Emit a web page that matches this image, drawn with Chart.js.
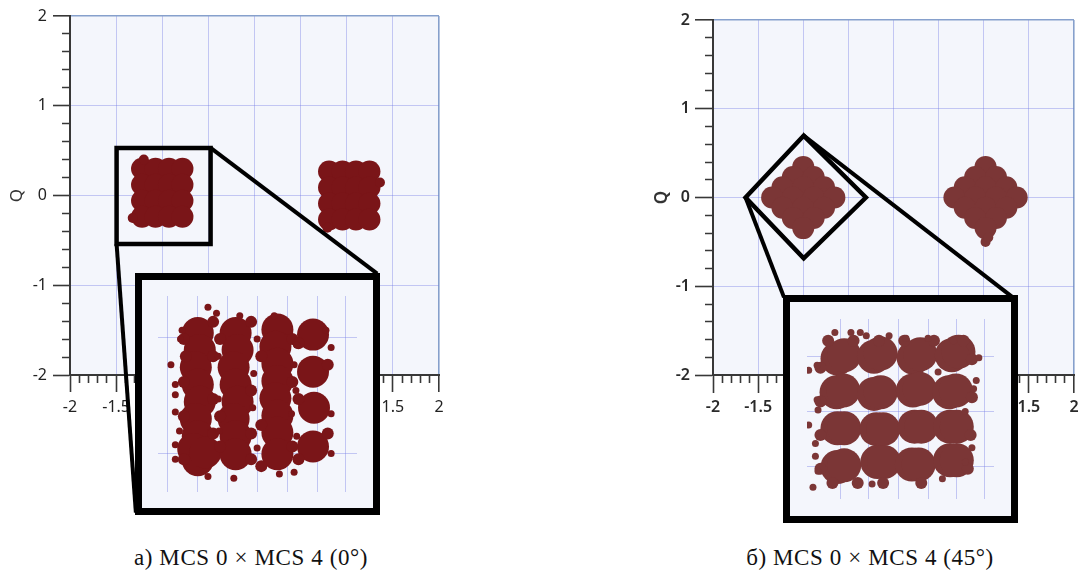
<!DOCTYPE html>
<html>
<head>
<meta charset="utf-8">
<script src="https://cdn.jsdelivr.net/npm/chart.js@4.4.1/dist/chart.umd.min.js"></script>
<style>
  html, body { margin: 0; padding: 0; background: #fff; }
  #page { position: relative; width: 1085px; height: 576px; overflow: hidden; }
  .panel { position: absolute; top: 0; height: 530px; }
  .main { position: absolute; left: 0; top: 0; width: 100%; height: 100%; }
  .inset { position: absolute; box-sizing: border-box; border: 7px solid #000; background: #f4f6fc; }
  .caption { position: absolute; top: 544px; width: 400px; text-align: center; line-height: 28px;
             font-family: 'Liberation Serif', 'DejaVu Serif', serif; font-size: 23px; letter-spacing: 0.6px;
             color: #111; white-space: nowrap; }
</style>
</head>
<body>
<div id="page">
  <div class="panel" style="left:0;width:450px">
    <div class="main"><canvas id="mainA"></canvas></div>
    <div class="inset" style="left:135px;top:273px;width:245px;height:242px"><canvas id="insetA"></canvas></div>
  </div>
  <div class="panel" style="left:640px;width:445px">
    <div class="main"><canvas id="mainB"></canvas></div>
    <div class="inset" style="left:143px;top:295px;width:235px;height:228px"><canvas id="insetB"></canvas></div>
  </div>
  <div class="caption" style="left:51px">а) MCS 0 × MCS 4 (0°)</div>
  <div class="caption" style="left:670px">б) MCS 0 × MCS 4 (45°)</div>
</div>
<script>
/* ============================================================
   Constellations MCS 0 x MCS 4 — two I/Q scatter plots + zoom insets
   ============================================================ */

// ---- Axis ticks ----
const xMajorTicks = [-2, -1.5, -1, -0.5, 0, 0.5, 1, 1.5, 2];
const yMajorTicks = [-2, -1, 0, 1, 2];

// ---- (а) 0° : main plot clusters (I, Q) ----
const clusterA = [
  [-1.219, 0.297], [-1.073, 0.297], [-0.927, 0.297], [-0.781, 0.297],
  [-1.219, 0.119], [-1.073, 0.119], [-0.927, 0.119], [-0.781, 0.119],
  [-1.219, -0.059], [-1.073, -0.059], [-0.927, -0.059], [-0.781, -0.059],
  [-1.219, -0.237], [-1.073, -0.237], [-0.927, -0.237], [-0.781, -0.237],
  [0.808, 0.267], [0.954, 0.267], [1.10, 0.267], [1.246, 0.267],
  [0.808, 0.089], [0.954, 0.089], [1.10, 0.089], [1.246, 0.089],
  [0.808, -0.089], [0.954, -0.089], [1.10, -0.089], [1.246, -0.089],
  [0.808, -0.267], [0.954, -0.267], [1.10, -0.267], [1.246, -0.267]
];
const bumpsA = [[-1.20, 0.40], [1.36, 0.145], [-1.32, -0.25], [0.79, -0.36]];
const zoomBoxA = [[-1.495, 0.53], [-0.476, 0.53], [-0.476, -0.54], [-1.495, -0.54], [-1.495, 0.53]];
const linkA1 = [[-0.476, 0.53], [1.33, -0.87]];
const linkA2 = [[-1.495, -0.54], [-1.286, -3.534]];

// ---- (а) inset: zoom of the left cluster ----
const insetGridXA = [-1.452, -1.30, -1.15, -0.998, -0.848, -0.70, -0.556];
const insetGridYA = [0.289, -0.303];
const insetCoreA = [
  [-1.30, 0.311], [-1.29, 0.224], [-1.31, 0.136], [-1.30, 0.048], [-1.29, -0.039], [-1.31, -0.127],
  [-1.30, -0.215], [-1.30, -0.303], [-1.30, -0.338], [-1.323, -0.281], [-1.262, -0.298],
  [-1.11, 0.311], [-1.10, 0.224], [-1.12, 0.136], [-1.11, 0.048], [-1.10, -0.039], [-1.12, -0.127],
  [-1.11, -0.215], [-1.11, -0.307],
  [-0.90, 0.329], [-0.91, 0.241], [-0.90, 0.154], [-0.90, 0.066], [-0.91, -0.022], [-0.90, -0.110],
  [-0.90, -0.197], [-0.90, -0.307],
  [-0.721, 0.303], [-0.721, 0.114], [-0.716, -0.070], [-0.721, -0.268]
];
const insetFringeA = [
  [-1.37, 0.281], [-1.37, 0.061], [-1.37, -0.114], [-1.37, -0.333], [-1.36, 0.193],
  [-1.223, 0.368], [-1.223, 0.193], [-1.223, -0.026], [-1.223, -0.202],
  [-1.188, 0.281], [-1.188, -0.114], [-1.188, -0.268],
  [-1.032, 0.368], [-1.032, 0.018], [-1.032, -0.202], [-1.032, -0.333],
  [-0.981, 0.193], [-0.981, -0.158], [-0.981, -0.368],
  [-0.825, 0.281], [-0.825, 0.061], [-0.825, -0.268],
  [-0.794, 0.259], [-0.647, 0.149], [-0.794, -0.026], [-0.647, -0.202], [-0.794, -0.333]
];
const insetDotsA = [
  [-1.249, 0.443], [-1.206, 0.412], [-1.089, 0.399], [-0.916, 0.399], [-1.435, 0.149], [-1.413, 0.048],
  [-1.413, -0.004], [-1.413, -0.092], [-1.392, -0.189], [-1.413, -0.259], [-1.413, -0.333], [-1.249, -0.421],
  [-1.119, -0.430], [-0.890, -0.408], [-0.816, -0.399], [-0.630, -0.303], [-0.630, 0.237], [-0.656, 0.325],
  [-0.803, 0.250], [-1.197, 0.193], [-1.197, -0.026], [-1.002, 0.281], [-1.019, 0.105], [-1.024, -0.070],
  [-0.829, -0.101], [-0.803, -0.215], [-0.630, -0.101], [-1.193, -0.189], [-1.002, -0.276], [-1.379, 0.325],
  [-1.387, 0.281], [-0.807, 0.018], [-0.816, 0.149]
];

// ---- (б) 45° : main plot clusters (I, Q) ----
const clusterB = [
  [-1.0, 0.345], [-1.115, 0.23], [-1.23, 0.115], [-1.345, 0], [-0.885, 0.23], [-1.0, 0.115],
  [-1.115, 0], [-1.23, -0.115], [-0.77, 0.115], [-0.885, 0], [-1.0, -0.115], [-1.115, -0.23],
  [-0.655, 0], [-0.77, -0.115], [-0.885, -0.23], [-1.0, -0.345],
  [1.02, 0.345], [0.905, 0.23], [0.79, 0.115], [0.675, 0], [1.135, 0.23], [1.02, 0.115],
  [0.905, 0], [0.79, -0.115], [1.25, 0.115], [1.135, 0], [1.02, -0.115], [0.905, -0.23],
  [1.365, 0], [1.25, -0.115], [1.135, -0.23], [1.02, -0.345]
];
const bumpsB = [[1.02, -0.50], [1.05, -0.45]];
const zoomBoxB = [[-0.995, 0.697], [-0.306, 0], [-0.995, -0.686], [-1.639, 0], [-0.995, 0.697]];
const linkB1 = [[-1.639, 0], [-1.213, -1.125]];
const linkB2 = [[-0.995, 0.697], [1.322, -1.125]];

// ---- (б) inset: zoom of the left (rotated) cluster ----
const insetGridXB = [-1.32, -1.17, -1.01, -0.85, -0.70, -0.55];
const insetGridYB = [0.29, -0.014, -0.322];
const insetCoreB = [
  [-1.337, 0.280], [-1.301, 0.299], [-1.142, 0.290], [-1.106, 0.308], [-0.930, 0.285], [-0.894, 0.304], [-0.726, 0.299], [-0.690, 0.318],
  [-1.342, 0.093], [-1.306, 0.103], [-1.142, 0.084], [-1.106, 0.093], [-0.934, 0.103], [-0.898, 0.112], [-0.740, 0.093], [-0.704, 0.103],
  [-1.337, -0.107], [-1.301, -0.107], [-1.129, -0.112], [-1.093, -0.112], [-0.925, -0.098], [-0.889, -0.098], [-0.735, -0.098], [-0.699, -0.098],
  [-1.337, -0.322], [-1.301, -0.313], [-1.124, -0.294], [-1.088, -0.294], [-0.939, -0.308], [-0.903, -0.308], [-0.735, -0.285], [-0.699, -0.285]
];
const insetFringeB = [
  [-1.387, 0.379], [-1.251, 0.379], [-1.115, 0.379], [-0.980, 0.379], [-0.821, 0.379], [-0.663, 0.379],
  [-1.428, 0.229], [-1.428, 0.042], [-1.428, -0.145], [-1.428, -0.332],
  [-1.364, -0.411], [-1.229, -0.411], [-1.093, -0.411], [-0.889, -0.411],
  [-0.618, 0.276], [-0.618, 0.065], [-0.625, -0.145], [-0.640, -0.332]
];
const insetDotsB = [
  [-1.491, 0.215], [-1.446, 0.243], [-1.351, 0.425], [-1.265, 0.425], [-1.183, 0.407], [-1.061, 0.407],
  [-0.971, 0.393], [-0.853, 0.393], [-0.717, 0.379], [-0.627, 0.346], [-0.581, 0.285], [-0.595, 0.159],
  [-0.609, 0.112], [-0.654, -0.014], [-1.446, 0.051], [-1.441, -0.005], [-1.491, -0.089], [-1.455, -0.192],
  [-1.455, -0.262], [-1.441, -0.346], [-1.468, -0.435], [-1.152, -0.416], [-0.776, -0.388], [-0.654, -0.294],
  [-0.618, -0.215], [-1.215, 0.425], [-0.799, 0.206]
];

// ---- Styles ----
const red0 = '#7a1518';
const red45 = '#7b3636';
const gridColor = 'rgba(112,122,228,0.38)';
const edgeColor = '#86a0cc';
const axisColor = '#383838';
const plotBg = '#f4f6fc';
const none = 'rgba(0,0,0,0)';

const pts = a => a.map(([x, y]) => ({ x, y }));

const areaFill = {
  id: 'areaFill',
  beforeDraw(chart, args, o) {
    const { ctx, chartArea: a } = chart;
    ctx.save();
    ctx.fillStyle = o.color;
    ctx.fillRect(a.left, a.top, a.width, a.height);
    ctx.restore();
  }
};

// major + minor ticks, labels only on majors
function mainAxis(isX, majors, stepCount, cfg) {
  const min = -2, max = 2;
  const all = Array.from({ length: stepCount + 1 }, (_, k) => (isX ? (k - 20) / 10 : (k - 10) / 5));
  const tl = cfg.tickLength;
  return {
    type: 'linear', min, max,
    afterBuildTicks: s => { s.ticks = all.map(v => ({ value: v })); },
    afterFit: s => { if (isX) s.height = 155; else s.width = cfg.width; },
    title: isX ? { display: false } : {
      display: true, text: 'Q', color: '#333',
      font: { family: 'Noto Sans', size: 17, weight: cfg.weight }, padding: { top: cfg.titlePad, bottom: 0 }
    },
    ticks: {
      autoSkip: false, maxRotation: 0, padding: cfg.pad, color: cfg.labelColor,
      font: { family: 'Noto Sans', size: 16, weight: cfg.weight },
      callback: v => (majors.includes(v) ? String(v) : '')
    },
    border: { display: true, color: axisColor, width: 2 },
    grid: {
      tickLength: tl, tickWidth: 1.6, tickColor: axisColor,
      color: ctx => {
        if (!ctx.tick) return none;
        const v = ctx.tick.value;
        if (v === max) return edgeColor;
        return majors.includes(v) && v !== min ? gridColor : none;
      },
      lineWidth: ctx => (ctx.tick && ctx.tick.value === max ? 1.6 : 1),
      tickBorderDash: ctx => {
        if (!ctx.tick || majors.includes(ctx.tick.value)) return [];
        return isX ? [7, 60] : [0, tl - 8, 7, 60];
      }
    }
  };
}

function mainChart(id, cfg) {
  return new Chart(document.getElementById(id), {
    type: 'scatter',
    data: {
      datasets: [
        { data: pts(cfg.box), showLine: true, borderColor: '#000', borderWidth: 4.5, pointRadius: 0, borderCapStyle: 'square', borderJoinStyle: 'miter' },
        { data: pts(cfg.link1), showLine: true, borderColor: '#000', borderWidth: 4, pointRadius: 0, clip: false },
        { data: pts(cfg.link2), showLine: true, borderColor: '#000', borderWidth: 4, pointRadius: 0, clip: false },
        { data: pts(cfg.bumps), backgroundColor: cfg.color, borderWidth: 0, pointRadius: 5 },
        { data: pts(cfg.cluster), backgroundColor: cfg.color, borderWidth: 0, pointRadius: 11 }
      ]
    },
    options: {
      responsive: true, maintainAspectRatio: false, animation: false, events: [],
      layout: { padding: { left: 0, top: cfg.top, right: cfg.right, bottom: 0 } },
      plugins: { legend: { display: false }, tooltip: { enabled: false }, areaFill: { color: plotBg } },
      scales: {
        x: mainAxis(true, xMajorTicks, 40, cfg),
        y: mainAxis(false, yMajorTicks, 20, cfg)
      }
    },
    plugins: [areaFill]
  });
}

function insetAxis(isX, min, max, gridVals) {
  return {
    type: 'linear', min, max,
    afterBuildTicks: s => { s.ticks = gridVals.map(v => ({ value: v })); },
    afterFit: s => { if (isX) s.height = 0; else s.width = 0; },
    ticks: { display: false },
    border: { display: false },
    grid: { color: gridColor, lineWidth: 1, drawTicks: false }
  };
}

function insetChart(id, cfg) {
  return new Chart(document.getElementById(id), {
    type: 'scatter',
    data: {
      datasets: [
        { data: pts(cfg.dots), backgroundColor: cfg.color, borderWidth: 0, pointRadius: 3.5 },
        { data: pts(cfg.fringe), backgroundColor: cfg.color, borderWidth: 0, pointRadius: 6 },
        { data: pts(cfg.core), backgroundColor: cfg.color, borderWidth: 0, pointRadius: cfg.coreR }
      ]
    },
    options: {
      responsive: true, maintainAspectRatio: false, animation: false, events: [],
      layout: { padding: 0 },
      plugins: { legend: { display: false }, tooltip: { enabled: false } },
      scales: {
        x: insetAxis(true, -1.5, -0.5, cfg.gridX),
        y: insetAxis(false, -0.5, 0.5, cfg.gridY)
      }
    }
  });
}

// ---- (а) 0° ----
mainChart('mainA', {
  cluster: clusterA, bumps: bumpsA, box: zoomBoxA, link1: linkA1, link2: linkA2, color: red0,
  top: 16, right: 10, width: 70, tickLength: 17, pad: 6, titlePad: 7, weight: 'normal', labelColor: '#222'
});
insetChart('insetA', { core: insetCoreA, fringe: insetFringeA, dots: insetDotsA, coreR: 16, color: red0, gridX: insetGridXA, gridY: insetGridYA });

// ---- (б) 45° ----
mainChart('mainB', {
  cluster: clusterB, bumps: bumpsB, box: zoomBoxB, link1: linkB1, link2: linkB2, color: red45,
  top: 20, right: 6, width: 73, tickLength: 18, pad: 5, titlePad: 12, weight: '600', labelColor: '#2a2a2a'
});
insetChart('insetB', { core: insetCoreB, fringe: insetFringeB, dots: insetDotsB, coreR: 17, color: red45, gridX: insetGridXB, gridY: insetGridYB });
</script>
</body>
</html>
